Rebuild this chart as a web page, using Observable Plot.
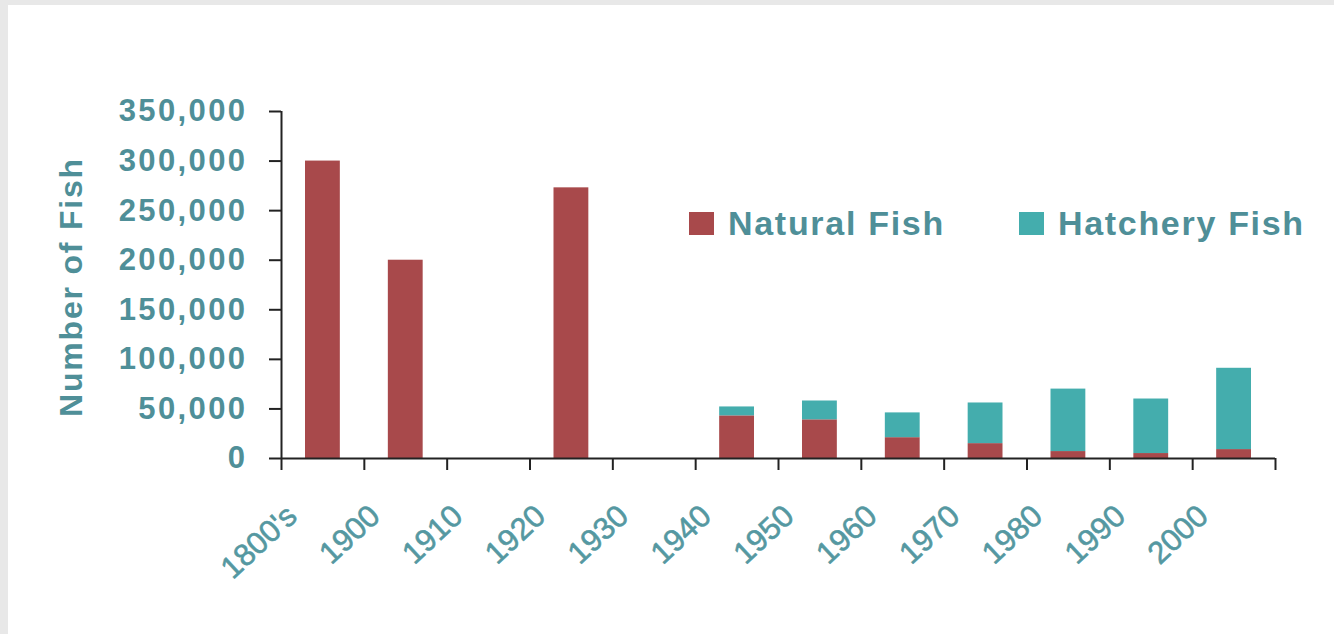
<!DOCTYPE html>
<html>
<head>
<meta charset="utf-8">
<script src="https://cdn.jsdelivr.net/npm/d3@7"></script>
<script src="https://cdn.jsdelivr.net/npm/@observablehq/plot@0.6"></script>
<style>
  html, body { margin: 0; padding: 0; background: #e8e8e8; width: 1334px; height: 634px; overflow: hidden; }
  #panel { position: absolute; left: 8px; top: 5px; width: 1326px; height: 629px; background: #fff; }
  #panel svg { display: block; }
  .legend { position: absolute; left: 681px; top: 201px; display: flex; gap: 74px;
            font: bold 34px "Liberation Sans", Arial, sans-serif; color: #4f8f98; letter-spacing: 1.7px; }
  .legend .item { display: flex; align-items: center; gap: 14px; height: 34px; line-height: 34px; white-space: nowrap; }
  .legend .sw { width: 25px; height: 23px; flex: none; }
  g[aria-label="y-axis tick label"] text { letter-spacing: 2.4px; }
</style>
</head>
<body>
<div id="panel"></div>
<script>
// Salmon returns by decade
const decades = ["1800's", "1900", "1910", "1920", "1930", "1940", "1950", "1960", "1970", "1980", "1990", "2000"];
const naturalFish = [300000, 200000, 0, 273000, 0, 43000, 39000, 21000, 15000, 7000, 5000, 9000];
const hatcheryFish = [0, 0, 0, 0, 0, 9000, 19000, 25000, 41000, 63000, 55000, 82000];
const seriesNames = ["Natural Fish", "Hatchery Fish"];
const seriesColors = ["#a8494b", "#44adad"];
const yTicks = [0, 50000, 100000, 150000, 200000, 250000, 300000, 350000];
const yTitle = "Number of Fish";

const textColor = "#4f8f98";
const labelColor = "#5598a1";
const axisColor = "#222";
const font = "'Liberation Sans', Arial, sans-serif";

// Stacked segments: natural at the base, hatchery on top
const rows = decades.flatMap((decade, i) => [
  {decade, i, series: seriesNames[0], y1: 0, y2: naturalFish[i]},
  {decade, i, series: seriesNames[1], y1: naturalFish[i], y2: naturalFish[i] + hatcheryFish[i]}
]).filter(d => d.y2 > d.y1);

const titleMark = Plot.text([yTitle], {
  frameAnchor: "left", textAnchor: "middle", text: d => d, rotate: -90, dx: -210, dy: 2,
  fontSize: 32, fontWeight: "bold", fill: textColor
});

const chart = Plot.plot({
  width: 1326,
  height: 629,
  marginLeft: 273,
  marginRight: 59,
  marginTop: 106,
  marginBottom: 176,
  style: {background: "transparent", fontFamily: font, overflow: "visible"},
  x: {type: "linear", domain: [0, decades.length], axis: null},
  y: {domain: [0, 350000], axis: null},
  color: {domain: seriesNames, range: seriesColors},
  marks: [
    Plot.rect(rows, {
      x1: "i", x2: d => d.i + 1, y1: "y1", y2: "y2",
      fill: "series", insetLeft: 24, insetRight: 24
    }),
    Plot.axisY({
      ticks: yTicks, tickSize: 12, tickPadding: 22, label: null,
      tickFormat: d3.format(","),
      fontSize: 31, fontWeight: "bold", fill: textColor,
      stroke: axisColor, strokeWidth: 2
    }),
    Plot.axisX({
      ticks: d3.range(decades.length + 1), tickSize: 12, label: null,
      tickFormat: () => "", stroke: axisColor, strokeWidth: 2
    }),
    Plot.ruleX([0], {stroke: axisColor, strokeWidth: 2}),
    Plot.ruleY([0], {stroke: axisColor, strokeWidth: 2}),
    Plot.text(decades, {
      x: (d, i) => i + 0.5, frameAnchor: "bottom", text: d => d,
      rotate: -43, textAnchor: "end", dx: -24, dy: 60,
      fontSize: 31, fill: labelColor, stroke: labelColor, strokeWidth: 0.6
    }),
    titleMark
  ]
});

const panel = document.getElementById("panel");
panel.appendChild(chart);

// Widen the axis title's tracking (the last text group in the chart)
const textGroups = chart.querySelectorAll('g[aria-label="text"]');
const titleGroup = textGroups[textGroups.length - 1];
if (titleGroup) titleGroup.setAttribute("letter-spacing", "1.8");

// Legend built from the chart's color scale
const color = chart.scale("color");
const legend = document.createElement("div");
legend.className = "legend";
color.domain.forEach((name, k) => {
  const item = document.createElement("div");
  item.className = "item";
  const sw = document.createElement("span");
  sw.className = "sw";
  sw.style.background = color.range[k];
  const label = document.createElement("span");
  label.textContent = name;
  item.appendChild(sw);
  item.appendChild(label);
  legend.appendChild(item);
});
panel.appendChild(legend);
</script>
</body>
</html>
